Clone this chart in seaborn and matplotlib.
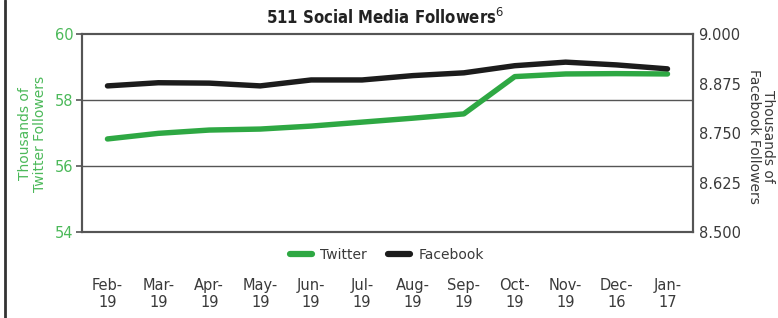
import numpy as np
import pandas as pd
import matplotlib
matplotlib.use("Agg")
import matplotlib.pyplot as plt
from matplotlib.lines import Line2D
import seaborn as sns

# 数据
months = ['Feb-\n19', 'Mar-\n19', 'Apr-\n19', 'May-\n19', 'Jun-\n19', 'Jul-\n19',
          'Aug-\n19', 'Sep-\n19', 'Oct-\n19', 'Nov-\n19', 'Dec-\n16', 'Jan-\n17']
twitter = [56.82, 56.99, 57.09, 57.12, 57.21, 57.33, 57.45, 57.58, 58.71, 58.79, 58.80, 58.79]
facebook = [8.869, 8.877, 8.876, 8.869, 8.884, 8.884, 8.895, 8.902, 8.920, 8.929, 8.922, 8.912]
left_ticks = [54, 56, 58, 60]
right_ticks = [8.500, 8.625, 8.750, 8.875, 9.000]

green = '#2ea843'
label_green = '#4cb95a'
black = '#1c1c1c'
grey = '#555555'
text_grey = '#3a3a3a'

sns.set_style('white')
plt.rcParams['font.family'] = ['DejaVu Sans']

df = pd.DataFrame({'pos': np.arange(len(months)), 'Twitter': twitter, 'Facebook': facebook})

fig = plt.figure(figsize=(7.78, 3.18), dpi=100)
ax = fig.add_axes([0.1054, 0.2704, 0.7853, 0.6226])
ax2 = ax.twinx()

sns.lineplot(data=df, x='pos', y='Twitter', ax=ax, color=green, linewidth=3.9, zorder=3)
sns.lineplot(data=df, x='pos', y='Facebook', ax=ax2, color=black, linewidth=3.9, zorder=3)

ax.set_xlim(-0.5, len(months) - 0.5)
ax.set_ylim(54, 60)
ax2.set_ylim(8.5, 9.0)
ax.set_yticks(left_ticks)
ax.set_yticklabels([str(t) for t in left_ticks], color=label_green, fontsize=10.5)
ax2.set_yticks(right_ticks)
ax2.set_yticklabels([f'{t:.3f}' for t in right_ticks], color=text_grey, fontsize=10.5)
ax.set_xticks(df['pos'])
ax.set_xticklabels(months, fontsize=10.5, color=text_grey, linespacing=1.2)
ax.set_xlabel('')
ax.set_ylabel('')
ax2.set_ylabel('')

for g in [56, 58]:
    ax.axhline(g, color=grey, linewidth=1.0, zorder=1)

for a in (ax, ax2):
    for s in a.spines.values():
        s.set_color(grey)
        s.set_linewidth(1.5)
ax.tick_params(axis='x', direction='out', length=4, color=grey, width=1.2, pad=29)
ax.tick_params(axis='y', direction='out', length=4, color=grey, width=1.2, pad=2)
ax2.tick_params(axis='y', direction='out', length=0, pad=4)

fig.text(0.495, 0.943, '511 Social Media Followers$^{6}$', ha='center', va='center',
         fontsize=12, fontweight='bold', fontstretch='condensed', color='#222222')

fig.text(0.042, 0.58, 'Thousands of\nTwitter Followers', rotation=90, ha='center', va='center',
         fontsize=10, color=label_green, linespacing=1.05)
fig.text(0.978, 0.57, 'Thousands of\nFacebook Followers', rotation=270, ha='center', va='center',
         fontsize=10, color=text_grey, linespacing=1.05)

handles = [Line2D([0], [0], color=green, linewidth=4.5), Line2D([0], [0], color=black, linewidth=4.5)]
fig.legend(handles, ['Twitter', 'Facebook'], loc='center', bbox_to_anchor=(0.497, 0.198),
           ncol=2, frameon=False, fontsize=10, handlelength=1.6, columnspacing=1.5,
           handletextpad=0.6, labelcolor=text_grey)

# 左侧边框线
fig.add_artist(Line2D([0.0065, 0.0065], [0, 1], transform=fig.transFigure, color='#333333', linewidth=2))

fig.savefig('out.png', dpi=100)
